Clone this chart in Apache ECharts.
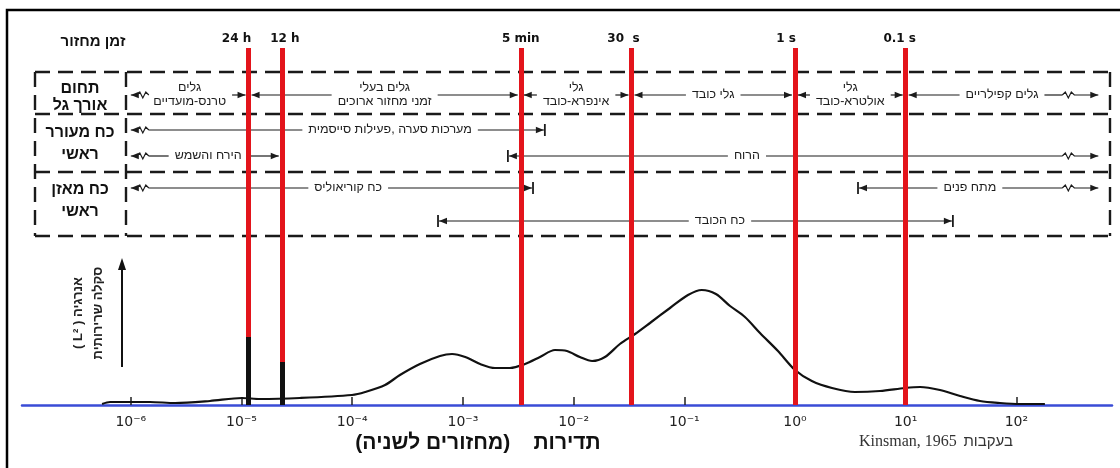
<!DOCTYPE html>
<html>
<head>
<meta charset="utf-8">
<script src="https://cdn.jsdelivr.net/npm/echarts@6/dist/echarts.min.js"></script>
<style>
  html, body { margin: 0; padding: 0; background: #fff; }
  #chart { width: 1120px; height: 468px; }
</style>
</head>
<body>
<div id="chart"></div>
<script>
// Ocean wave energy spectrum after Kinsman (1965), Hebrew labels

// frequency axis (cycles per second)
const axisMin = 1.04e-7;
const axisMax = 731;
const tickValues = [1e-6, 1e-5, 1e-4, 1e-3, 1e-2, 1e-1, 1, 10, 100];

// period markers
const periodLabels = ['24 h', '12 h', '5 min', '30  s', '1 s', '0.1 s'];
const periodFreqs = [1 / 86400, 1 / 43200, 1 / 300, 1 / 30, 1, 10];

// energy spectrum, arbitrary scale
const specFreq = [5.5e-7, 6.5e-7, 8.9e-7, 1.49e-6, 2.51e-6, 5.19e-6, 1.01e-5, 1.47e-5, 3.37e-5, 9.95e-5,
  1.31e-4, 1.98e-4, 2.70e-4, 4.09e-4, 6.21e-4, 7.98e-4, 1.05e-3, 1.43e-3, 1.95e-3, 2.66e-3,
  3.64e-3, 4.97e-3, 6.79e-3, 8.71e-3, 1.14e-2, 1.47e-2, 1.92e-2, 2.62e-2, 3.59e-2, 4.90e-2,
  7.43e-2, 0.108, 0.144, 0.193, 0.259, 0.353, 0.483, 0.702, 1.0, 1.42,
  2.16, 3.48, 5.86, 9.86, 13.5, 20.4, 31.0, 46.9, 71.1, 108, 181];
const specEnergy = [1, 3, 3, 3, 2, 4, 7, 6, 7, 10,
  13, 20, 30, 41, 49, 51, 48, 41, 37, 37,
  41, 48, 55, 54, 48, 44, 48, 61, 71, 82,
  97, 110, 115, 111, 99, 88, 72, 54, 35, 24,
  17, 13, 14, 17, 18, 15, 9, 4, 2, 1, 1];

// tidal lines
const tideFreq = [1 / 86400, 1 / 43200];
const tideEnergy = [68, 43];

// wave regimes (row 1), bounded by these frequencies
const regimeNames = ['גלים\nטרנס-מועדיים', 'גלים בעלי\nזמני מחזור ארוכים', 'גלי\nאינפרא-כובד',
  'גלי כובד', 'גלי\nאולטרא-כובד', 'גלים קפילריים'];
const regimeBounds = [1e-6, 1 / 86400, 1 / 300, 1 / 30, 1, 10, 550];

// disturbing forces (row 2)
const forcingNames = ['מערכות סערה ,פעילות סייסמית', 'הירח והשמש', 'הרוח'];
const forcingLow = [1e-6, 1e-6, 2.55e-3];
const forcingHigh = [5.5e-3, 2.31e-5, 550];
const forcingLabelAt = [2.2e-4, 5.0e-6, 0.368];
const forcingEnds = [['open', 'bar'], ['open', 'arrow'], ['bar', 'open']];
const forcingLane = [0, 1, 1];

// restoring forces (row 3)
const restoringNames = ['כח קוריאוליס', 'מתח פנים', 'כח הכובד'];
const restoringLow = [1e-6, 3.71, 5.96e-4];
const restoringHigh = [4.3e-3, 550, 26.7];
const restoringLabelAt = [9.2e-5, 38, 0.21];
const restoringEnds = [['open', 'bar'], ['bar', 'open'], ['bar', 'bar']];
const restoringLane = [0, 0, 1];

const INK = '#1c1c1c';
const RED = '#e3141b';
const BLUE = '#3a4cd6';
const HEB = '"Liberation Sans", "DejaVu Sans", sans-serif';
const SMALL = 12.5;

// layout in px
const WAVE_Y = [95];
const FORCING_Y = [130, 156];
const RESTORING_Y = [188, 221];
const PERIOD_LABEL_SHIFT = [-12, 3, 0, -8, -9, -6];

// right-to-left embedding so the bidi order comes out as in Hebrew print
const heb = s => s.split('\n').map(l => '\u202B' + l + '\u202C').join('\n');

const measureCtx = document.createElement('canvas').getContext('2d');
function textWidth(text) {
  measureCtx.font = SMALL + 'px ' + HEB;
  return Math.max(...text.split('\n').map(l => measureCtx.measureText(l).width));
}

const SUP = { '-': '⁻', '0': '⁰', '1': '¹', '2': '²', '3': '³', '4': '⁴', '5': '⁵', '6': '⁶', '7': '⁷', '8': '⁸', '9': '⁹' };
function powerLabel(v) {
  const e = String(Math.round(Math.log10(v)));
  return '10' + e.split('').map(c => SUP[c]).join('');
}

function seg(x1, x2, y) {
  return { type: 'line', shape: { x1, y1: y, x2, y2: y }, style: { stroke: INK, lineWidth: 1.2 } };
}
function head(tip, y, out) {
  return { type: 'polygon', shape: { points: [[tip, y], [tip - out * 8, y - 3.2], [tip - out * 8, y + 3.2]] }, style: { fill: INK } };
}

// end of a range line: out = -1 left end, +1 right end
function endMark(kind, x, y, out) {
  const inward = -out;
  const els = [];
  let lineStart = x;
  if (kind === 'open') {
    const d = out < 0 ? 6 : 24;
    els.push(head(x, y, out));
    els.push({
      type: 'polyline',
      shape: { points: [[x, y], [x + inward * d, y], [x + inward * (d + 3), y - 3], [x + inward * (d + 6), y + 3],
        [x + inward * (d + 9), y - 3], [x + inward * (d + 12), y]] },
      style: { stroke: INK, lineWidth: 1.2, fill: null }
    });
    lineStart = x + inward * (d + 12);
  } else if (kind === 'bar') {
    els.push({ type: 'line', shape: { x1: x, y1: y - 6, x2: x, y2: y + 6 }, style: { stroke: INK, lineWidth: 1.8 } });
    els.push(head(x - out, y, out));
    lineStart = x - out;
  } else {
    const tip = x - out * 3;
    els.push(head(tip, y, out));
    lineStart = tip;
  }
  return { els, lineStart };
}

function drawRange(xLo, xHi, xLab, y, text, kinds) {
  const half = textWidth(text) / 2 + 6;
  const lo = endMark(kinds[0], xLo, y, -1);
  const hi = endMark(kinds[1], xHi, y, 1);
  const children = lo.els.concat(hi.els);
  if (xLab - half > lo.lineStart) children.push(seg(lo.lineStart, xLab - half, y));
  if (hi.lineStart > xLab + half) children.push(seg(xLab + half, hi.lineStart, y));
  children.push({
    type: 'text', x: xLab, y,
    style: { text: heb(text), fontSize: SMALL, fontFamily: HEB, fill: INK, align: 'center', verticalAlign: 'middle', lineHeight: 14 }
  });
  return { type: 'group', children };
}

function rangeRenderer(names, lanes, ends, laneY, midLabel) {
  return function (params, api) {
    const i = params.dataIndex;
    const xLo = api.coord([api.value(0), 0])[0];
    const xHi = api.coord([api.value(1), 0])[0];
    const xLab = midLabel ? (xLo + xHi) / 2 : api.coord([api.value(2), 0])[0];
    return drawRange(xLo, xHi, xLab, laneY[lanes[i]], names[i], ends[i]);
  };
}

const regimeEnds = regimeNames.map((n, i) => [i === 0 ? 'open' : 'arrow', i === regimeNames.length - 1 ? 'open' : 'arrow']);

const dash = { stroke: '#1a1a1a', lineWidth: 2.4, lineDash: [15, 8] };
const hLine = (y, x1, x2) => ({ type: 'line', shape: { x1, y1: y, x2, y2: y }, style: dash });
const vLine = (x, y1, y2) => ({ type: 'line', shape: { x1: x, y1, x2: x, y2 }, style: dash });
const boldText = (t, x, y, size) => ({
  type: 'text', x, y,
  style: { text: heb(t), fontSize: size, fontWeight: 'bold', fontFamily: HEB, fill: '#111', align: 'center', verticalAlign: 'middle' }
});

const Y_MAX = 357;

const chart = echarts.init(document.getElementById('chart'));

const option = {
  animation: false,
  backgroundColor: '#fff',
  grid: { left: 22, right: 8, top: 48, bottom: 63, outerBoundsMode: 'none' },
  xAxis: {
    type: 'log',
    logBase: 10,
    min: axisMin,
    max: axisMax,
    axisLine: { lineStyle: { color: BLUE, width: 2.5 } },
    axisTick: { inside: true, length: 8, customValues: tickValues, lineStyle: { color: '#222', width: 1.5 } },
    axisLabel: {
      customValues: tickValues,
      formatter: powerLabel,
      margin: 10,
      fontSize: 14,
      fontFamily: '"DejaVu Sans", sans-serif',
      color: '#222'
    },
    splitLine: { show: false }
  },
  yAxis: { type: 'value', min: 0, max: Y_MAX, show: false },
  graphic: [
    { type: 'polyline', shape: { points: [[7, 468], [7, 10], [1120, 10]] }, style: { stroke: '#000', lineWidth: 2.5, fill: null } },
    hLine(72, 35, 1110), hLine(114, 35, 1110), hLine(172, 35, 1110), hLine(236, 35, 1110),
    vLine(35, 72, 236), vLine(126, 72, 236), vLine(1110, 72, 236),
    boldText('זמן מחזור', 93, 42, 15),
    boldText('תחום', 80, 89, 16), boldText('אורך גל', 80, 106, 16),
    boldText('כח מעורר', 80, 133, 16), boldText('ראשי', 80, 155, 16),
    boldText('כח מאזן', 80, 190, 16), boldText('ראשי', 80, 212, 16),
    { type: 'line', shape: { x1: 122, y1: 367, x2: 122, y2: 266 }, style: { stroke: '#111', lineWidth: 2 } },
    { type: 'polygon', shape: { points: [[122, 258], [118, 270], [126, 270]] }, style: { fill: '#111' } },
    {
      type: 'text', x: 88, y: 313, rotation: Math.PI / 2,
      style: {
        text: heb('אנרגיה ( L² )\nסקלה שרירותית'), fontSize: 13, fontWeight: 'bold', fontFamily: HEB,
        fill: '#222', align: 'center', verticalAlign: 'middle', lineHeight: 20
      }
    },
    {
      type: 'text', x: 478, y: 443,
      style: { text: heb('תדירות    (מחזורים לשניה)'), fontSize: 21, fontWeight: 'bold', fontFamily: HEB, fill: '#111', align: 'center', verticalAlign: 'middle' }
    },
    {
      type: 'text', x: 936, y: 442,
      style: {
        text: '{a|Kinsman, 1965}  {b|' + heb('בעקבות') + '}',
        rich: {
          a: { fontSize: 16, fontFamily: '"Liberation Serif", serif', fill: '#333' },
          b: { fontSize: 15, fontFamily: HEB, fill: '#333' }
        },
        align: 'center', verticalAlign: 'middle'
      }
    }
  ],
  series: [
    {
      type: 'custom',
      name: 'regimes',
      z: 1,
      clip: false,
      data: regimeNames.map((n, i) => [regimeBounds[i], regimeBounds[i + 1], i]),
      renderItem: rangeRenderer(regimeNames, regimeNames.map(() => 0), regimeEnds, WAVE_Y, true)
    },
    {
      type: 'custom',
      name: 'forcing',
      z: 1,
      clip: false,
      data: forcingNames.map((n, i) => [forcingLow[i], forcingHigh[i], forcingLabelAt[i]]),
      renderItem: rangeRenderer(forcingNames, forcingLane, forcingEnds, FORCING_Y, false)
    },
    {
      type: 'custom',
      name: 'restoring',
      z: 1,
      clip: false,
      data: restoringNames.map((n, i) => [restoringLow[i], restoringHigh[i], restoringLabelAt[i]]),
      renderItem: rangeRenderer(restoringNames, restoringLane, restoringEnds, RESTORING_Y, false)
    },
    {
      type: 'line',
      name: 'spectrum',
      z: 2,
      smooth: 0.3,
      showSymbol: false,
      lineStyle: { color: '#111', width: 2.2 },
      data: specFreq.map((f, i) => [f, specEnergy[i]])
    },
    {
      type: 'line',
      name: 'periods',
      z: 3,
      data: [],
      markLine: {
        z: 6,
        silent: true,
        symbol: ['none', 'none'],
        lineStyle: { color: RED, width: 5, type: 'solid' },
        label: {
          position: 'end',
          distance: 3,
          fontSize: 12,
          fontWeight: 'bold',
          fontFamily: '"DejaVu Sans", sans-serif',
          color: '#111'
        },
        data: periodFreqs.map((f, i) => [
          { coord: [f, 0] },
          { coord: [f, Y_MAX], label: { formatter: periodLabels[i], offset: [PERIOD_LABEL_SHIFT[i], 0] } }
        ])
      }
    },
    {
      type: 'line',
      name: 'tides',
      z: 4,
      data: [],
      markLine: {
        z: 8,
        silent: true,
        symbol: ['none', 'none'],
        lineStyle: { color: '#111', width: 5, type: 'solid' },
        label: { show: false },
        data: tideFreq.map((f, i) => [{ coord: [f, 0] }, { coord: [f, tideEnergy[i]] }])
      }
    }
  ]
};

chart.setOption(option);
</script>
</body>
</html>
